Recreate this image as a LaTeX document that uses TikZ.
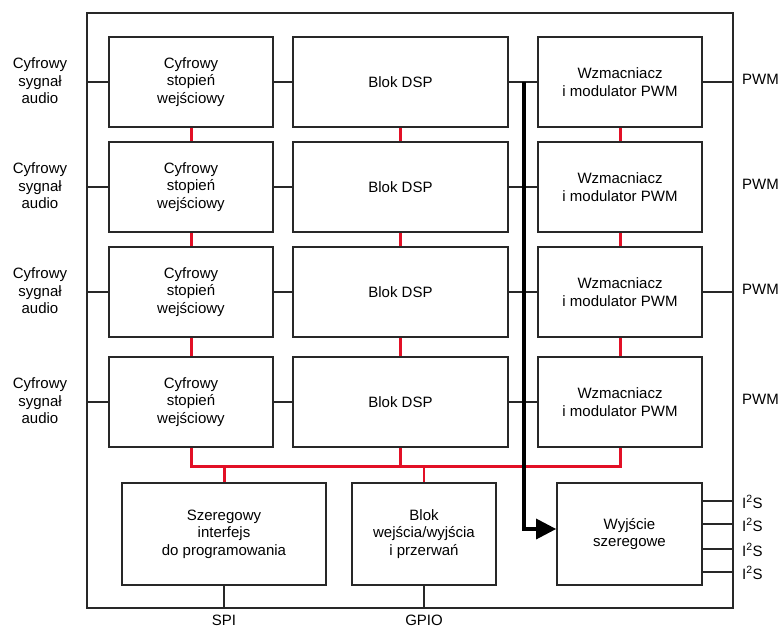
\documentclass[tikz,border=0pt]{standalone}
\usepackage{fontspec}
\setmainfont{Liberation Sans}
\usetikzlibrary{arrows.meta}
\definecolor{busred}{RGB}{226,16,38}
\definecolor{lineg}{RGB}{40,40,40}
\begin{document}
\begin{tikzpicture}[x=1pt,y=-1pt,
  every node/.style={font=\fontsize{15}{17.5}\selectfont, align=center, inner sep=0pt},
  blk/.style={draw=lineg, line width=1.7pt, fill=white},
  colA/.style={blk, minimum width=164pt, minimum height=90pt},
  colB/.style={blk, minimum width=215pt, minimum height=90pt},
  wire/.style={draw=lineg, line width=1.5pt},
  redbus/.style={draw=busred, line width=3pt},
  redthin/.style={draw=busred, line width=1.4pt},
  bigarrow/.style={draw=black, line width=3.2pt, -{Triangle[length=20pt,width=20pt]}}
]
\useasboundingbox (0,0) rectangle (783,629);
% outer chip border
\node[draw=lineg, line width=1.7pt, minimum width=646pt, minimum height=595pt] (chip) at (410,310.5) {};

% rows
\foreach \r/\y in {1/82,2/187,3/292,4/402}{
  \node[colA] (in\r) at (191,\y) {Cyfrowy\\stopień\\wejściowy};
  \node[colB] (dsp\r) at (400.5,\y) {Blok DSP};
  \node[colA] (amp\r) at (620,\y) {Wzmacniacz\\i modulator PWM};
  \node (src\r) at (40,\y-1) {Cyfrowy\\sygnał\\audio};
  \node[anchor=west] (pwm\r) at (742,\y-3) {PWM};
  \draw[wire] (in\r.west -| chip.west) -- (in\r.west);
  \draw[wire] (in\r.east) -- (dsp\r.west);
  \draw[wire] (dsp\r.east) -- (amp\r.west);
}
\draw[wire] (amp1.east) -- (amp1.east -| chip.east);
\draw[wire] (amp3.east) -- (amp3.east -| chip.east);

% bottom blocks
\node[blk, minimum width=204pt, minimum height=102pt] (spi) at (224,534) {Szeregowy\\interfejs\\do programowania};
\node[blk, minimum width=144pt, minimum height=102pt] (gpio) at (424,534) {Blok\\wejścia/wyjścia\\i przerwań};
\node[blk, minimum width=145pt, minimum height=102pt] (ser) at (629.5,534) {Wyjście\\szeregowe};

\node (spilbl) at (224,620) {SPI};
\node (gpiolbl) at (424,620) {GPIO};
\draw[wire] (spi.south) -- (spi.south |- chip.south);
\draw[wire] (gpio.south) -- (gpio.south |- chip.south);

% I2S outputs
\foreach \i/\y in {1/501,2/524,3/549,4/572}{
  \coordinate (s\i) at (702,\y);
  \draw[wire] (s\i) -- (s\i -| chip.east);
  \node[anchor=west] (i2s\i) at (742,\y+1) {I\textsuperscript{2}S};
}

% red vertical links between rows
\foreach \a/\b in {1/2,2/3,3/4}{
  \draw[redbus] (in\a.south) -- (in\b.north);
  \draw[redbus] (dsp\a.south) -- (dsp\b.north);
  \draw[redbus] (amp\a.south) -- (amp\b.north);
}
% red bus
\coordinate (busL) at (191,466);
\coordinate (busR) at (620,466);
\draw[redbus, line join=miter] (in4.south) -- (busL) -- (busR) -- (amp4.south);
\draw[redbus] (dsp4.south) -- (dsp4.south |- busL);
\draw[redbus] (spi.north |- busL) -- (spi.north);
\draw[redthin] (gpio.north |- busL) -- (gpio.north);

% thick arrow
\coordinate (tap) at (524,82);
\coordinate (turn) at (524,529);
\draw[bigarrow] (tap) -- (turn) -- (turn -| ser.west);
\end{tikzpicture}
\end{document}
